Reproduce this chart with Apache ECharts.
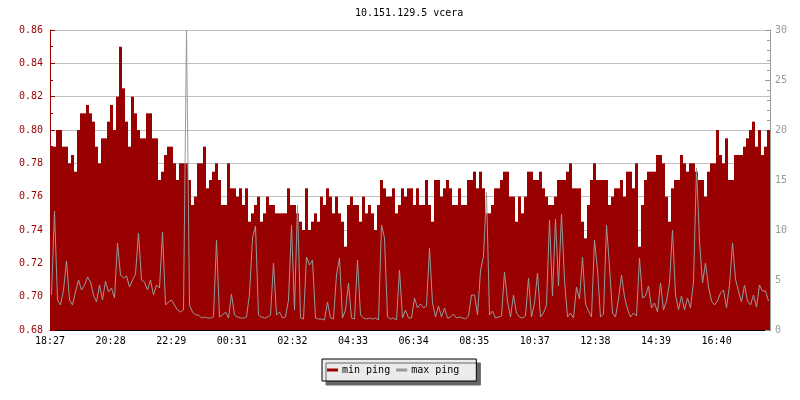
<!DOCTYPE html>
<html>
<head>
<meta charset="utf-8">
<script src="https://cdn.jsdelivr.net/npm/echarts@6/dist/echarts.min.js"></script>
<style>html,body{margin:0;padding:0;background:#fff}#c{width:800px;height:400px}</style>
</head>
<body>
<div id="c"></div>
<script>
// sample step in minutes, start 18:27
var sampleMinutes = 6;
var tickStep = 121.2;
var tickLabels = ['18:27','20:28','22:29','00:31','02:32','04:33','06:34','08:35','10:37','12:38','14:39','16:40'];

var minPing = [
0.79,0.79,0.80,0.80,0.79,0.79,0.78,0.785,0.775,0.80, 0.81,0.81,0.815,0.81,0.805,0.79,0.78,0.795,0.795,0.805,
0.815,0.80,0.82,0.85,0.825,0.805,0.79,0.82,0.81,0.80, 0.795,0.795,0.81,0.81,0.795,0.795,0.77,0.775,0.785,0.79,
0.79,0.78,0.77,0.78,0.78,0.78,0.77,0.755,0.76,0.78, 0.78,0.79,0.765,0.77,0.775,0.78,0.77,0.755,0.755,0.78,
0.765,0.765,0.76,0.765,0.755,0.765,0.745,0.75,0.755,0.76, 0.745,0.75,0.76,0.755,0.755,0.75,0.75,0.75,0.75,0.765,
0.755,0.755,0.75,0.745,0.74,0.765,0.74,0.745,0.75,0.745, 0.76,0.755,0.765,0.76,0.75,0.76,0.75,0.745,0.73,0.755,
0.76,0.755,0.755,0.745,0.76,0.75,0.755,0.75,0.74,0.755, 0.77,0.765,0.76,0.76,0.765,0.75,0.755,0.765,0.76,0.765,
0.765,0.755,0.765,0.755,0.755,0.77,0.755,0.745,0.77,0.77, 0.76,0.765,0.77,0.765,0.755,0.755,0.765,0.755,0.755,0.77,
0.77,0.775,0.765,0.775,0.765,0.75,0.75,0.755,0.765,0.765, 0.77,0.775,0.775,0.76,0.76,0.745,0.76,0.75,0.76,0.775,
0.775,0.77,0.77,0.775,0.765,0.76,0.755,0.755,0.76,0.77, 0.77,0.77,0.775,0.78,0.765,0.765,0.765,0.745,0.735,0.755,
0.77,0.78,0.77,0.77,0.77,0.77,0.755,0.76,0.765,0.765, 0.77,0.76,0.775,0.775,0.765,0.78,0.73,0.755,0.77,0.775,
0.775,0.775,0.785,0.785,0.78,0.76,0.745,0.765,0.77,0.77, 0.785,0.78,0.775,0.78,0.78,0.775,0.77,0.77,0.76,0.775,
0.78,0.78,0.80,0.785,0.78,0.795,0.77,0.77,0.785,0.785, 0.785,0.79,0.795,0.80,0.805,0.79,0.80,0.785,0.79,0.80
];

var maxPing = [
3.5,11.9,3,2.5,4,6.9,3,2.5,3.8,5, 4,4.5,5.3,4.8,3.5,2.8,4.5,3,4.9,3.8,
4.2,3.2,8.7,5.5,5.2,5.4,4.3,5,5.6,9.7, 5,4.8,4,5,3.5,4.5,4.2,9.8,2.5,2.8,
3,2.5,2,1.8,2,30,2.5,1.8,1.5,1.5, 1.2,1.3,1.2,1.2,1.3,9,1.3,1.5,1.8,1.2,
3.6,1.5,1.3,1.2,1.2,1.3,3.6,9.2,10.4,1.5, 1.3,1.2,1.3,1.5,6.7,1.5,1.8,1.2,1.3,3,
10.5,2,12.5,1.2,1.1,7.3,6.5,7,1.2,1.1, 1.1,1,2.8,1.2,1.1,5.5,7.2,1.2,2,4.7,
1.2,1.1,7,1.5,1.2,1.1,1.2,1.1,1.2,1, 10.5,9.2,1.3,1.1,1.2,1,6,1.2,2,1.2,
1.2,3.2,2.2,2.6,2.2,2.4,8.2,2.7,1.3,2.4, 1.3,2.2,1.2,1.3,1.6,1.2,1.3,1.2,1.1,1.4,
3.5,3.5,1.5,5.9,7.4,13.8,1.5,1.9,1.2,1.3, 1.4,5.8,2.9,1.3,3.5,1.7,1.3,1.2,1.4,5.2,
1.3,2.7,5.7,1.3,1.7,2.5,11,3.4,11.1,4.4, 11.6,5,1.3,1.7,1.2,4.3,3.1,7.3,2.6,1.9,
1.3,9,6,1.3,1.6,10.5,6.3,1.7,1.3,3.1, 5.5,3.3,2.1,1.3,1.7,1.4,7.2,3.2,3.4,4.4,
2.2,2.7,1.8,4.7,2,2.9,4.7,10,3.5,2, 3.4,2,3.2,2.2,4.8,16.2,8.9,4.7,6.7,4.3,
2.9,2.5,2.9,3.7,4,2.2,4.5,8.7,5.1,3.9, 2.8,4.5,2.9,2.5,3.5,2.3,4.5,3.9,3.9,2.9
];

var FONT = 'DejaVu Sans Mono';
var RED = '#990000';
var GRAY = '#999999';

var minData = minPing.map(function (v, i) { return [i * sampleMinutes + sampleMinutes / 2, v]; });
var maxData = maxPing.map(function (v, i) { return [i * sampleMinutes + sampleMinutes / 2, v]; });
var totalMinutes = minPing.length * sampleMinutes;

var chart = echarts.init(document.getElementById('c'), null, { renderer: 'canvas' });
chart.setOption({
  backgroundColor: '#ffffff',
  animation: false,
  title: {
    text: '10.151.129.5 vcera',
    left: 355, top: 8, padding: 0,
    textStyle: { fontFamily: FONT, fontSize: 10, fontWeight: 'normal', color: '#000' }
  },
  legend: {
    data: ['min ping', 'max ping'],
    left: 322, top: 359,
    orient: 'horizontal',
    padding: [6, 17, 6, 5],
    itemGap: 6,
    itemWidth: 11, itemHeight: 3,
    icon: 'rect',
    backgroundColor: '#ebebeb',
    borderColor: '#000', borderWidth: 1, borderRadius: 0,
    shadowColor: '#666666', shadowBlur: 0, shadowOffsetX: 4, shadowOffsetY: 4,
    textStyle: { fontFamily: FONT, fontSize: 10, color: '#000', padding: [0, 0, 0, -1] }
  },
  grid: { left: 50, right: 30, top: 30, bottom: 70, containLabel: false },
  xAxis: {
    type: 'value', min: 0, max: totalMinutes, interval: tickStep,
    axisLine: { show: true, lineStyle: { color: '#000', width: 1 } },
    axisTick: { show: true, inside: true, length: 5, lineStyle: { color: '#000' } },
    splitLine: { show: false },
    axisLabel: {
      show: true, margin: 6, showMaxLabel: false,
      fontFamily: FONT, fontSize: 10, color: '#000',
      formatter: function (v) {
        var idx = Math.round(v / tickStep);
        if (Math.abs(v - idx * tickStep) < 0.5 && idx < tickLabels.length) return tickLabels[idx];
        return '';
      }
    }
  },
  yAxis: [{
    type: 'value', min: 0.68, max: 0.86, interval: 0.02, position: 'left',
    axisLine: { show: true, lineStyle: { color: RED, width: 1 } },
    axisTick: { show: true, inside: true, length: 5, lineStyle: { color: RED } },
    minorTick: { show: true, splitNumber: 2, length: 3, lineStyle: { color: RED } },
    splitLine: { show: true, lineStyle: { color: '#c0c0c0', width: 1 } },
    axisLabel: { margin: 7, fontFamily: FONT, fontSize: 10, color: RED,
      formatter: function (v) { return v.toFixed(2); } }
  }, {
    type: 'value', min: 0, max: 30, interval: 5, position: 'right',
    axisLine: { show: true, lineStyle: { color: GRAY, width: 1 } },
    axisTick: { show: true, inside: true, length: 5, lineStyle: { color: GRAY } },
    minorTick: { show: true, splitNumber: 5, length: 3, lineStyle: { color: GRAY } },
    splitLine: { show: false },
    axisLabel: { margin: 5, fontFamily: FONT, fontSize: 10, color: GRAY }
  }],
  series: [{
    name: 'min ping', type: 'bar', yAxisIndex: 0,
    data: minData, barWidth: 3, clip: true,
    itemStyle: { color: RED },
    emphasis: { disabled: true }, z: 2
  }, {
    name: 'max ping', type: 'line', yAxisIndex: 1,
    data: maxData, showSymbol: false, symbol: 'none',
    lineStyle: { color: GRAY, width: 1 },
    itemStyle: { color: GRAY },
    emphasis: { disabled: true }, z: 3
  }]
});
</script>
</body>
</html>
